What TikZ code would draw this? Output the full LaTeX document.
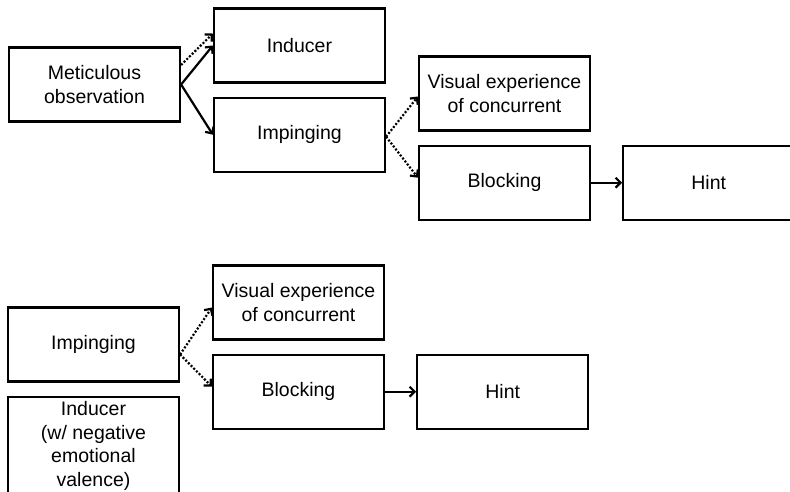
\documentclass[tikz,border=0pt]{standalone}
\usepackage{fontspec}
\setmainfont{Liberation Sans}
\usepackage{tikz}
\usetikzlibrary{arrows.meta, positioning}

\begin{document}
\begin{tikzpicture}[
		x=1pt, y=-1pt,
		node distance=13pt and 31pt,
		% cajas y flechas
		box/.style={rectangle, draw, line width=2.2pt, minimum width=171pt, minimum height=74pt, align=center, font=\fontsize{19.5pt}{23.5pt}\selectfont},
		solidarrow/.style={-{Straight Barb[length=5pt, width=10pt]}, line width=2.2pt},
		dotarrow/.style={solidarrow, dash pattern=on 2pt off 1.8pt}
		]
		
		\clip (0,0) rectangle (790,491);
		
		% parte superior
		\node[box] (met) at (94.5,84.5) {Meticulous\\observation};
		\node[box] (ind) at (299.5,45.5) {Inducer};
		\node[box, below=of ind] (imp) {Impinging};
		\node[box] (vis) at (504.5,93.5) {Visual experience\\of concurrent};
		\node[box, below=of vis] (blk) {Blocking};
		\node[box, right=of blk] (hint) {Hint};
		
		\draw[dotarrow] ([yshift=19.5pt]met.east) -- ([yshift=12pt]ind.west);
		\draw[solidarrow] (met.east) -- (ind.west);
		\draw[solidarrow] (met.east) -- (imp.west);
		\draw[dotarrow] ([yshift=-2pt]imp.east) -- ([yshift=-3pt]vis.west);
		\draw[dotarrow] ([yshift=-2pt]imp.east) -- ([yshift=5pt]blk.west);
		\draw[solidarrow] (blk) -- (hint);
		
		% parte inferior
		\node[box] (vis2) at (298.5,302.5) {Visual experience\\of concurrent};
		\node[box, below=of vis2] (blk2) {Blocking};
		\node[box, right=of blk2] (hint2) {Hint};
		\node[box] (imp2) at (93.5,344.5) {Impinging};
		\node[box, below=of imp2, inner ysep=5pt] (ind2) {Inducer\\(w/ negative\\emotional\\valence)};
		
		\draw[dotarrow] ([yshift=-10pt]imp2.east) -- ([yshift=-5pt]vis2.west);
		\draw[dotarrow] ([yshift=-10pt]imp2.east) -- ([yshift=5pt]blk2.west);
		\draw[solidarrow] (blk2) -- (hint2);
		
	\end{tikzpicture}
\end{document}
